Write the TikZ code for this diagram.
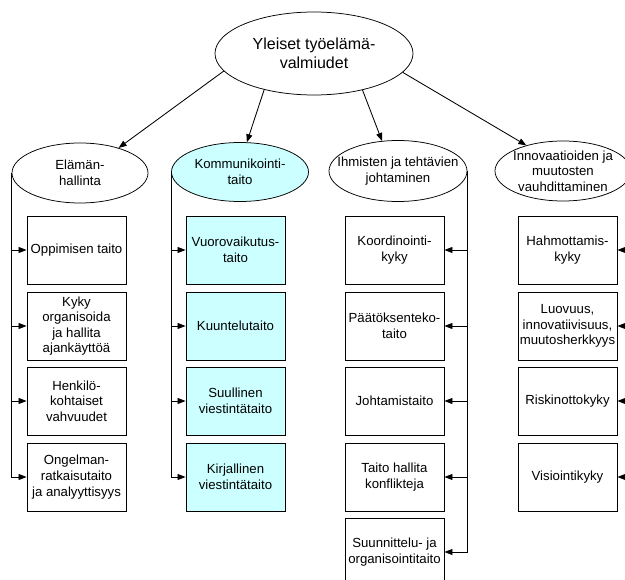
\documentclass[tikz,border=0pt]{standalone}
\usepackage{fontspec}
\setmainfont{Liberation Sans}
\usetikzlibrary{shapes.geometric,arrows.meta}
\definecolor{cellcyan}{HTML}{CCFFFF}

\begin{document}
\begin{tikzpicture}[x=1pt,y=-1pt,
  oval/.style={draw, ellipse, inner sep=0pt, line width=0.75pt},
  ovaltext/.style={align=center, inner sep=0pt, font=\fontsize{13.2}{15.6}\selectfont},
  skillbox/.style={draw, rectangle, line width=0.9pt, minimum width=99pt,
    minimum height=68pt, inner sep=0pt, align=center,
    font=\fontsize{13.2}{15.6}\selectfont},
  commbox/.style={skillbox, fill=cellcyan},
  feed/.style={line width=0.85pt, -{Triangle[length=8pt,width=6pt]}}
]
\useasboundingbox (0,0) rectangle (625,580);
\clip (0,0) rectangle (625,580);

% root
\node[oval, minimum width=198pt, minimum height=83pt] (top) at (314,53.5) {};
\node[align=center, inner sep=0pt, font=\fontsize{16}{19.5}\selectfont] (toptext) at (top) {Yleiset työelämä-\\valmiudet};

% second level
\node[oval, minimum width=136pt, minimum height=60pt] (c1) at (80,173) {};
\node[ovaltext] (t1) at (c1) {Elämän-\\hallinta};
\node[oval, fill=cellcyan, minimum width=137pt, minimum height=59pt] (c2) at (240,172) {};
\node[ovaltext] (t2) at (c2) {Kommunikointi-\\taito};
\node[oval, minimum width=138pt, minimum height=61pt] (c3) at (398,171) {};
\node[ovaltext] (t3) at (c3) {Ihmisten ja tehtävien\\johtaminen};
\node[oval, minimum width=136pt, minimum height=60pt] (c4) at (563,171) {};
\node[ovaltext] (t4) at (c4) {Innovaatioiden ja\\muutosten\\vauhdittaminen};

\draw[feed] (top.191.7) -- (c1.33);
\draw[feed] (top.216.7) -- (c2.77);
\draw[feed] (top.323.3) -- (c3.118);
\draw[feed] (top.348) -- (c4.145.6);

% column 1
\node[skillbox] (b11) at (76.5,250) {Oppimisen taito};
\node[skillbox] (b12) at (76.5,326) {Kyky\\organisoida\\ja hallita\\ajankäyttöä};
\node[skillbox] (b13) at (76.5,401) {Henkilö-\\kohtaiset\\vahvuudet};
\node[skillbox] (b14) at (76.5,477) {Ongelman-\\ratkaisutaito\\ja analyyttisyys};
\draw[feed] (c1.west) |- (b14.west);
\foreach \b in {b11,b12,b13} \draw[feed] (c1.west |- \b.west) -- (\b.west);

% column 2
\node[commbox] (b21) at (235.5,250) {Vuorovaikutus-\\taito};
\node[commbox] (b22) at (235.5,326) {Kuuntelutaito};
\node[commbox] (b23) at (235.5,401) {Suullinen\\viestintätaito};
\node[commbox] (b24) at (235.5,477) {Kirjallinen\\viestintätaito};
\draw[feed] (c2.west) |- (b24.west);
\foreach \b in {b21,b22,b23} \draw[feed] (c2.west |- \b.west) -- (\b.west);

% column 3
\node[skillbox] (b31) at (394.5,250) {Koordinointi-\\kyky};
\node[skillbox] (b32) at (394.5,326) {Päätöksenteko-\\taito};
\node[skillbox] (b33) at (394.5,401) {Johtamistaito};
\node[skillbox] (b34) at (394.5,477) {Taito hallita\\konflikteja};
\node[skillbox] (b35) at (394.5,552) {Suunnittelu- ja\\organisointitaito};
\draw[feed] (c3.east) |- (b35.east);
\foreach \b in {b31,b32,b33,b34} \draw[feed] (c3.east |- \b.east) -- (\b.east);

% column 4
\node[skillbox] (b41) at (567.5,250) {Hahmottamis-\\kyky};
\node[skillbox] (b42) at (567.5,326) {Luovuus,\\innovatiivisuus,\\muutosherkkyys};
\node[skillbox] (b43) at (567.5,401) {Riskinottokyky};
\node[skillbox] (b44) at (567.5,477) {Visiointikyky};
\draw[feed] (c4.east) |- (b44.east);
\foreach \b in {b41,b42,b43} \draw[feed] (c4.east |- \b.east) -- (\b.east);
\end{tikzpicture}
\end{document}
